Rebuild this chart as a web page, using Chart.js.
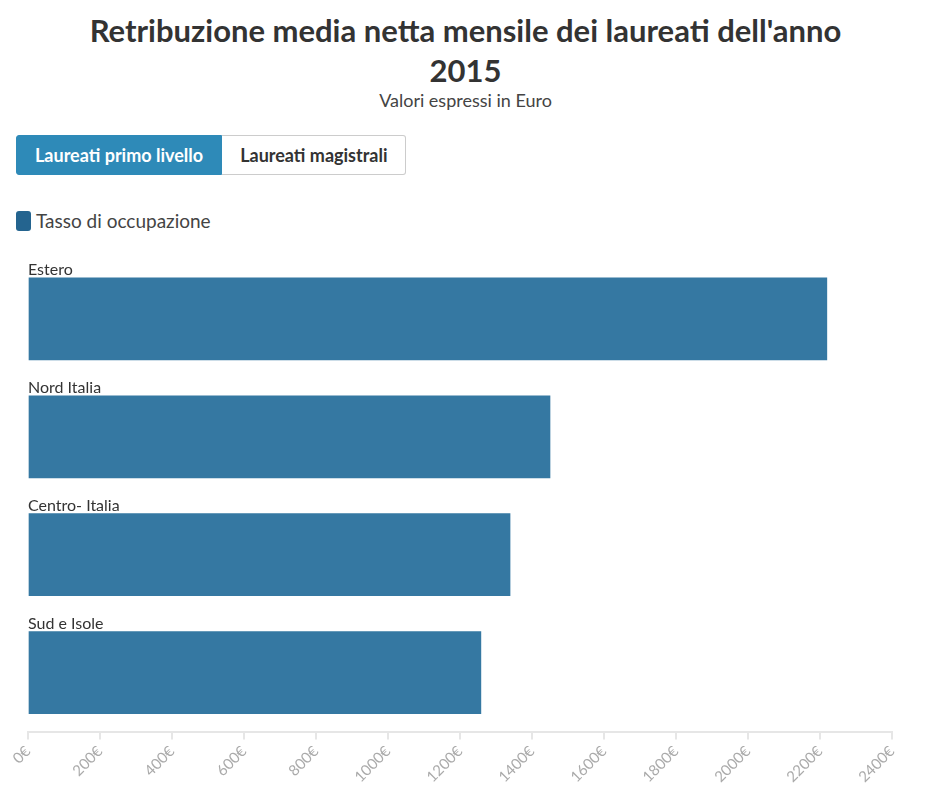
<!DOCTYPE html>
<html><head><meta charset="utf-8">
<script src="https://cdn.jsdelivr.net/npm/chart.js@4"></script>
<style>
body{margin:0;width:931px;height:789px;font-family:Lato,"Open Sans",sans-serif;color:#333;background:#fff;overflow:hidden}
h1{margin:0;position:absolute;top:10px;left:0;width:931px;text-align:center;font-size:31px;line-height:40px;font-weight:700;color:#333}
.sub{position:absolute;top:89px;width:931px;text-align:center;font-size:18px;color:#444}
.tabs{position:absolute;top:135px;left:16px;display:flex}
.tabs div{height:38px;line-height:38px;padding:0 18px;font-size:18px;font-weight:700;border:1px solid #ccc;color:#333}
.tabs .on{background:#2e8ab8;color:#fff;border-color:#2e8ab8;border-radius:3px 0 0 3px}
.tabs .off{border-left:none;border-radius:0 3px 3px 0}
.leg{position:absolute;top:209px;left:16px;font-size:19px;color:#444;display:flex;align-items:center}
.leg span{display:inline-block;width:15px;height:20px;background:#24648f;border-radius:3px;margin-right:5px}
#wrap{position:absolute;top:250px;left:0;width:931px;height:539px}
</style></head><body>
<h1>Retribuzione media netta mensile dei laureati dell'anno<br>2015</h1>
<div class="sub">Valori espressi in Euro</div>
<div class="tabs"><div class="on">Laureati primo livello</div><div class="off">Laureati magistrali</div></div>
<div class="leg"><span></span>Tasso di occupazione</div>
<div id="wrap"><canvas id="c"></canvas></div>
<script>
const categories = ['Estero', 'Nord Italia', 'Centro- Italia', 'Sud e Isole'];
const values = [2219, 1450, 1339, 1258];
const tickValues = [0, 200, 400, 600, 800, 1000, 1200, 1400, 1600, 1800, 2000, 2200, 2400];

new Chart(document.getElementById('c'), {
    type: 'bar',
    data: {
        labels: categories,
        datasets: [{ label: 'Tasso di occupazione', data: values, backgroundColor: '#3578a2', barThickness: 82 }]
    },
    options: {
        indexAxis: 'y',
        responsive: true,
        maintainAspectRatio: false,
        animation: false,
        layout: { padding: { left: 28, right: 39, top: 10 } },
        scales: {
            x: {
                min: 0, max: 2400,
                afterBuildTicks(ax) { ax.ticks = tickValues.map(v => ({ value: v })); },
                grid: { drawOnChartArea: false, color: '#e6e6e6', tickLength: 8, lineWidth: 2 },
                border: { color: '#e6e6e6', width: 2 },
                ticks: { maxRotation: 45, minRotation: 45, color: '#aaa', font: { family: 'Lato', size: 15 }, callback: v => v + '€' }
            },
            y: { display: false }
        },
        plugins: { legend: { display: false }, tooltip: { enabled: false } }
    },
    plugins: [{
        id: 'catLabels',
        afterDatasetsDraw(chart) {
            const { ctx } = chart;
            const meta = chart.getDatasetMeta(0);
            ctx.save();
            ctx.font = '16px Lato';
            ctx.fillStyle = '#333';
            ctx.textBaseline = 'bottom';
            meta.data.forEach((bar, i) => {
                ctx.fillText(categories[i], chart.chartArea.left, bar.y - bar.height / 2);
            });
            ctx.restore();
        }
    }]
});
</script>
</body></html>
